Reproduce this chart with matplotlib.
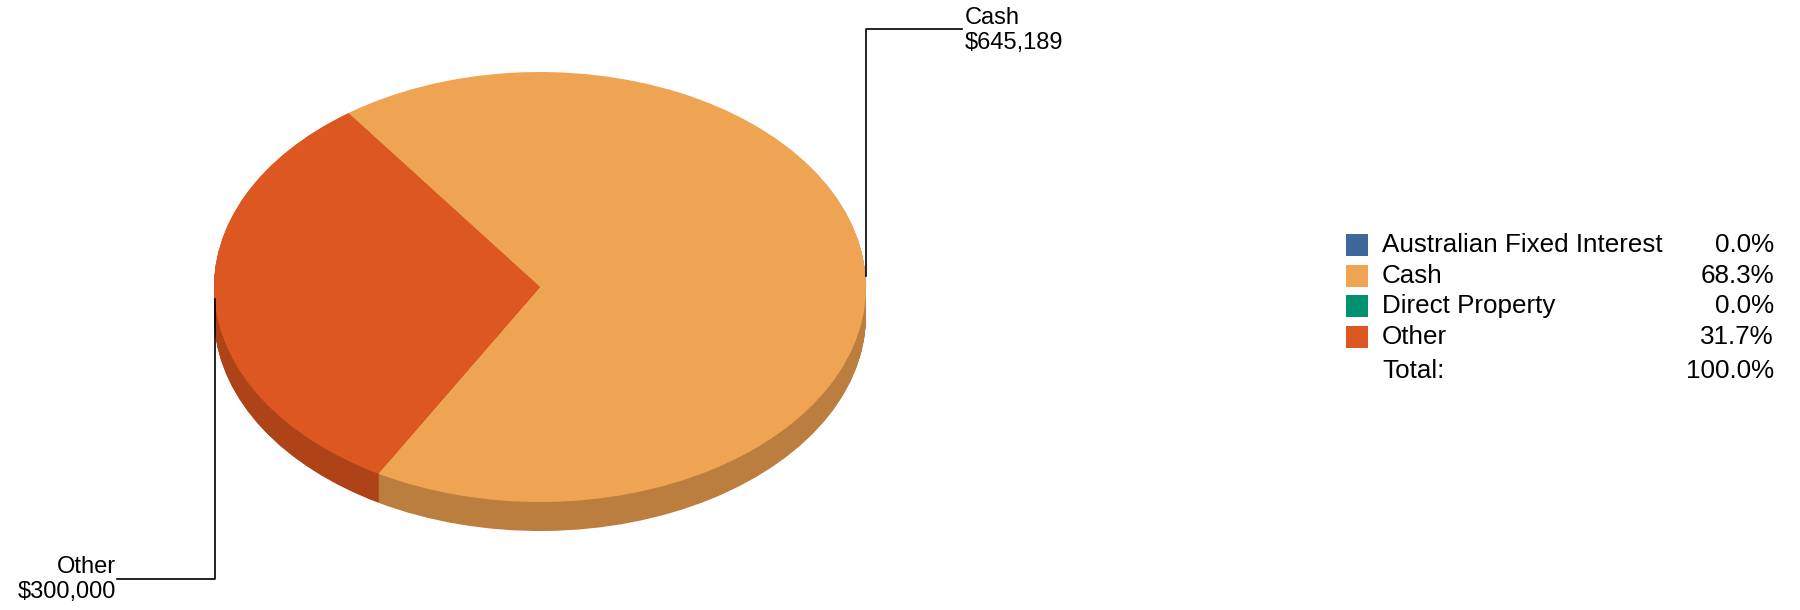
import matplotlib
matplotlib.use("Agg")
import matplotlib.pyplot as plt
from matplotlib.patches import Rectangle
import numpy as np

plt.rcParams['font.family'] = ['Liberation Sans', 'DejaVu Sans']

# ---- data ----
categories = ["Australian Fixed Interest", "Cash", "Direct Property", "Other"]
values = [0, 645189, 0, 300000]
top_colors = ["#3D689C", "#EFA454", "#00926F", "#DD5820"]
side_colors = ["#2E4F76", "#BC7E3E", "#006E54", "#AD4317"]
pct_labels = ["0.0%", "68.3%", "0.0%", "31.7%"]
total_label = "100.0%"

W, H = 1800, 610
fig = plt.figure(figsize=(W / 100, H / 100), dpi=100)

# pie axes: unit circle -> ellipse with semi-axes a (x) and b (y) in pixels
cx, cy = 540, 287       # centre in pixels (from top)
a, b = 326, 215
depth = 29
ax = fig.add_axes([0, 0, 1, 1])
start = 126
n_layers = 40
for k in range(n_layers, 0, -1):
    off = -(depth / b) * k / n_layers
    ax.pie(values, colors=side_colors, startangle=start, counterclock=False,
           center=(0, off), radius=1, wedgeprops=dict(linewidth=0, antialiased=True))
ax.pie(values, colors=top_colors, startangle=start, counterclock=False,
       center=(0, 0), radius=1, wedgeprops=dict(linewidth=0))
ax.set_aspect('auto')
ax.set_xlim(-cx / a, (W - cx) / a)
ax.set_ylim(-(H - cy) / b, cy / b)
ax.axis('off')

# overlay axes in pixel coordinates for leaders, labels and legend
ov = fig.add_axes([0, 0, 1, 1])
ov.set_xlim(0, W)
ov.set_ylim(H, 0)
ov.axis('off')
ov.patch.set_alpha(0)

fs = 17
lfs = 18.7
# Cash leader
ov.plot([866, 866, 962], [276, 29, 29], color='black', lw=1.2)
ov.text(965, 18, "Cash", fontsize=fs, ha='left', va='center')
ov.text(965, 43, "$645,189", fontsize=fs, ha='left', va='center')
# Other leader
ov.plot([215, 215, 117], [299, 579, 579], color='black', lw=1.2)
ov.text(116, 567, "Other", fontsize=fs, ha='right', va='center')
ov.text(116, 592, "$300,000", fontsize=fs, ha='right', va='center')

# legend
rows_y = [245, 276, 306, 337]
for yy, cat, col, pct in zip(rows_y, categories, top_colors, pct_labels):
    ov.add_patch(Rectangle((1346, yy - 11), 22, 22, facecolor=col, edgecolor='none'))
    ov.text(1382, yy, cat, fontsize=lfs, ha='left', va='center')
    ov.text(1774, yy, pct, fontsize=lfs, ha='right', va='center')
ov.text(1382, 371, "Total:", fontsize=lfs, ha='left', va='center')
ov.text(1774, 371, total_label, fontsize=lfs, ha='right', va='center')

fig.savefig("out.png", dpi=100, facecolor='white')
